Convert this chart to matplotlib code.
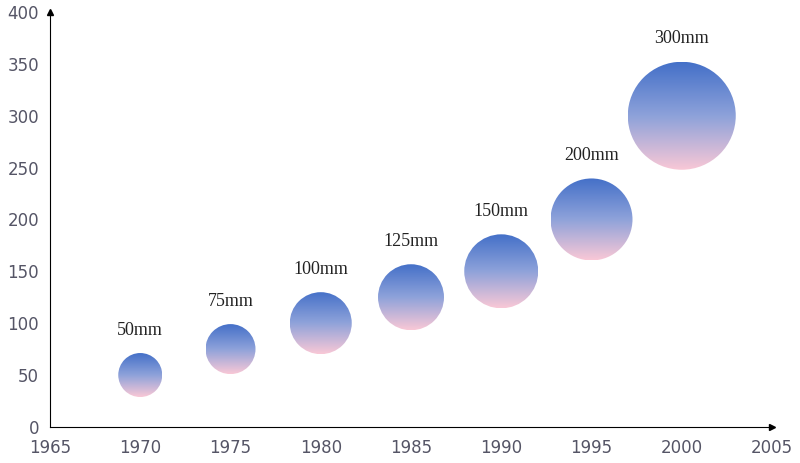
import matplotlib.pyplot as plt
import numpy as np
from matplotlib.patches import Ellipse
from matplotlib.colors import LinearSegmentedColormap

years = [1970, 1975, 1980, 1985, 1990, 1995, 2000]
values = [50, 75, 100, 125, 150, 200, 300]
labels = ['50mm', '75mm', '100mm', '125mm', '150mm', '200mm', '300mm']
radius_px = [22, 25, 31, 33, 37, 41, 54]

fig = plt.figure(figsize=(8, 4.63), dpi=100)
ax = fig.add_axes([0.0625, 0.078, 0.9025, 0.896])
ax.set_xlim(1965, 2005)
ax.set_ylim(0, 400)

# pixel -> data scale
sx = 0.9025 * 800 / 40.0
sy = 0.896 * 463 / 400.0

cmap = LinearSegmentedColormap.from_list('g', ['#4470c8', '#8ea2da', '#f9c8d6'])
grad = np.linspace(0, 1, 256).reshape(-1, 1)

for x, y, r, lab in zip(years, values, radius_px, labels):
    w = 2 * r / sx
    h = 2 * r / sy
    e = Ellipse((x, y), w, h, facecolor='none', edgecolor='none')
    ax.add_patch(e)
    im = ax.imshow(grad, cmap=cmap, aspect='auto', origin='upper',
                   extent=[x - w / 2, x + w / 2, y - h / 2, y + h / 2], zorder=2)
    im.set_clip_path(e)
    ax.text(x, y + h / 2 + 14, lab, ha='center', va='bottom',
            fontsize=13, family='Liberation Serif', color='#222222')

ax.set_xlim(1965, 2005)
ax.set_ylim(0, 400)
ax.set_xticks(range(1965, 2006, 5))
ax.set_yticks(range(0, 401, 50))
ax.tick_params(length=0, labelsize=12, colors='#555566')
ax.tick_params(axis='y', pad=8)
ax.tick_params(axis='x', pad=9)
for s in ['top', 'right']:
    ax.spines[s].set_visible(False)
for s in ['left', 'bottom']:
    ax.spines[s].set_color('black')
ax.plot(1, 0, '>k', transform=ax.transAxes, clip_on=False, markersize=5)
ax.plot(0, 1, '^k', transform=ax.transAxes, clip_on=False, markersize=5)

fig.savefig('out.png', dpi=100)
